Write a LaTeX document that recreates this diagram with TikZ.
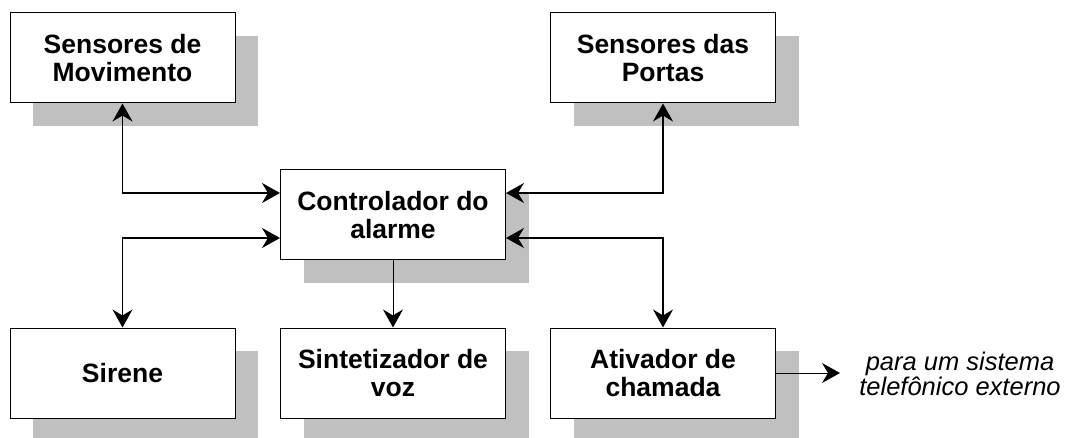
\documentclass[tikz,border=0pt]{standalone}
\usepackage{fontspec}
\setmainfont{Liberation Sans}
\usetikzlibrary{arrows.meta,shadows}
\definecolor{sombra}{RGB}{192,192,192}

\begin{document}
\begin{tikzpicture}[x=1pt,y=-1pt,
  caixa/.style={draw,fill=white,line width=1pt,minimum width=225pt,minimum height=90pt,inner sep=0pt,align=center,
    font=\fontsize{26.5}{28}\selectfont\bfseries,
    drop shadow={shadow xshift=23pt,shadow yshift=-23pt,fill=sombra,opacity=1}},
  ponta/.style={Stealth[length=18pt,width=20pt,inset=6pt]},
  seta/.style={line width=1.6pt,{Stealth[length=18pt,width=20pt,inset=6pt]}-{Stealth[length=18pt,width=20pt,inset=6pt]}},
  fina/.style={line width=1pt,-{Stealth[length=18pt,width=20pt,inset=6pt]}}]
\useasboundingbox (0,0) rectangle (1065,438);
% caixas
\node[caixa] (mov) at (122.5,58) {Sensores de\\Movimento};
\node[caixa] (port) at (663,58) {Sensores das\\Portas};
\node[caixa] (ctrl) at (393,215) {Controlador do\\alarme};
\node[caixa] (sir) at (122.5,373) {Sirene};
\node[caixa] (sint) at (393,373) {Sintetizador de\\voz};
\node[caixa] (ativ) at (663,373) {Ativador de\\chamada};
\node[align=center,font=\fontsize{25.5}{25}\selectfont\itshape] (ext) at (960,374) {para um sistema\\telef\^onico externo};
\coordinate (saida) at (840,373);
% ligacoes
\draw[seta] (mov.south) |- ([yshift=22pt]ctrl.west);
\draw[seta] ([yshift=-23pt]ctrl.west) -| (sir.north);
\draw[fina] (ctrl.south) -- (sint.north);
\draw[seta] (port.south) |- ([yshift=22pt]ctrl.east);
\draw[seta] ([yshift=-23pt]ctrl.east) -| (ativ.north);
\draw[fina] (ativ.east) -- (saida);
\end{tikzpicture}
\end{document}
